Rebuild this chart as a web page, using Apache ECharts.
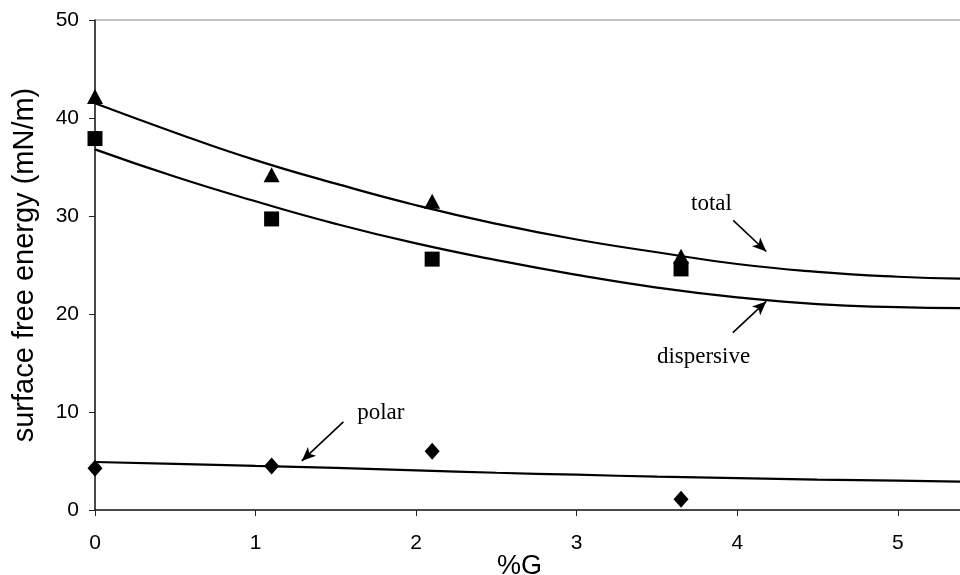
<!DOCTYPE html>
<html><head><meta charset="utf-8">
<script src="https://cdn.jsdelivr.net/npm/echarts@6/dist/echarts.min.js"></script>
<style>html,body{margin:0;padding:0;background:#fff}#c{width:960px;height:575px}</style>
</head><body><div id="c"></div>
<script>
// measured points (%G vs surface free energy)
const xG = [0, 1.1, 2.1, 3.65];
const totalPts = [42.2, 34.2, 31.5, 25.9];
const dispPts = [37.9, 29.7, 25.6, 24.6];
const polarPts = [4.25, 4.5, 6.0, 1.1];
// trend curves
const curveX = [0, 0.5, 1.0, 1.5, 2.0, 2.5, 3.0, 3.5, 4.0, 4.5, 5.0, 5.4];
const totalCurve = [41.5, 38.5, 35.7, 33.3, 31.1, 29.2, 27.6, 26.3, 25.1, 24.3, 23.8, 23.6];
const dispCurve = [36.8, 34.0, 31.5, 29.2, 27.2, 25.5, 24.0, 22.7, 21.7, 21.0, 20.7, 20.6];
const polarCurve = [4.9, 4.7, 4.5, 4.3, 4.05, 3.8, 3.6, 3.4, 3.25, 3.1, 3.0, 2.9];
// annotation labels and arrows (data coordinates)
const noteLabels = ['total', 'dispersive', 'polar'];
const noteText = [[3.84, 31.2], [3.79, 15.6], [1.78, 9.9]];
const noteArrowFrom = [[3.975, 29.55], [3.973, 18.1], [1.547, 9.0]];
const noteArrowTo = [[4.181, 26.38], [4.181, 21.28], [1.288, 5.01]];
const xTicks = [0, 1, 2, 3, 4, 5];

const zip = (xs, ys) => xs.map((x, i) => [x, ys[i]]);
const chart = echarts.init(document.getElementById('c'), null, {renderer: 'canvas'});
const black = '#000';
const curveStyle = {color: black, width: 2.2};
const markStyle = {color: black, opacity: 1};
chart.setOption({
  animation: false,
  backgroundColor: '#fff',
  grid: {left: 95, right: -2, top: 20, bottom: 65, show: true, borderColor: '#888', borderWidth: 1,
    containLabel: false, outerBoundsMode: 'none'},
  xAxis: {
    type: 'value', min: 0, max: 5.4, interval: 1,
    name: '%G', nameLocation: 'middle', nameGap: 43, nameMoveOverlap: false,
    nameTextStyle: {fontFamily: 'Liberation Sans', fontSize: 27, color: black, padding: [0, 18, 0, 0]},
    axisLine: {show: true, lineStyle: {color: '#222', width: 1.5}},
    axisTick: {show: true, inside: false, length: 6, lineStyle: {color: '#222'}},
    axisLabel: {fontFamily: 'Liberation Sans', fontSize: 21, color: black, margin: 23,
      formatter: v => xTicks.includes(v) ? String(v) : ''},
    splitLine: {show: false}
  },
  yAxis: {
    type: 'value', min: 0, max: 50, interval: 10,
    name: 'surface free energy (mN/m)', nameLocation: 'middle', nameGap: 56, nameMoveOverlap: false,
    nameTextStyle: {fontFamily: 'Liberation Sans', fontSize: 29, color: black},
    axisLine: {show: true, lineStyle: {color: '#222', width: 1.5}},
    axisTick: {show: true, inside: false, length: 6, lineStyle: {color: '#222'}},
    axisLabel: {fontFamily: 'Liberation Sans', fontSize: 21, color: black, margin: 16},
    splitLine: {show: false}
  },
  series: [
    {type: 'line', data: zip(curveX, totalCurve), smooth: true, showSymbol: false, lineStyle: curveStyle, silent: true},
    {type: 'line', data: zip(curveX, dispCurve), smooth: true, showSymbol: false, lineStyle: curveStyle, silent: true},
    {type: 'line', data: zip(curveX, polarCurve), smooth: true, showSymbol: false, lineStyle: curveStyle, silent: true},
    {type: 'scatter', data: zip(xG, totalPts), symbol: 'triangle', symbolSize: [16, 15], itemStyle: markStyle},
    {type: 'scatter', data: zip(xG, dispPts), symbol: 'rect', symbolSize: 15, itemStyle: markStyle},
    {type: 'scatter', data: zip(xG, polarPts), symbol: 'diamond', symbolSize: [15, 17], itemStyle: markStyle,
      markLine: {
        silent: true, symbol: ['none', 'arrow'], symbolSize: [9, 14], animation: false,
        lineStyle: {color: black, width: 1.6, type: 'solid'},
        label: {show: false},
        data: noteArrowFrom.map((f, i) => [{coord: f}, {coord: noteArrowTo[i]}])
      },
      markPoint: {
        silent: true, symbol: 'circle', symbolSize: 0, animation: false,
        label: {show: true, position: 'inside', formatter: p => p.name,
          fontFamily: 'Liberation Serif', fontSize: 23, color: black},
        data: noteText.map((c, i) => ({coord: c, name: noteLabels[i]}))
      }
    }
  ]
});
</script>
</body></html>
